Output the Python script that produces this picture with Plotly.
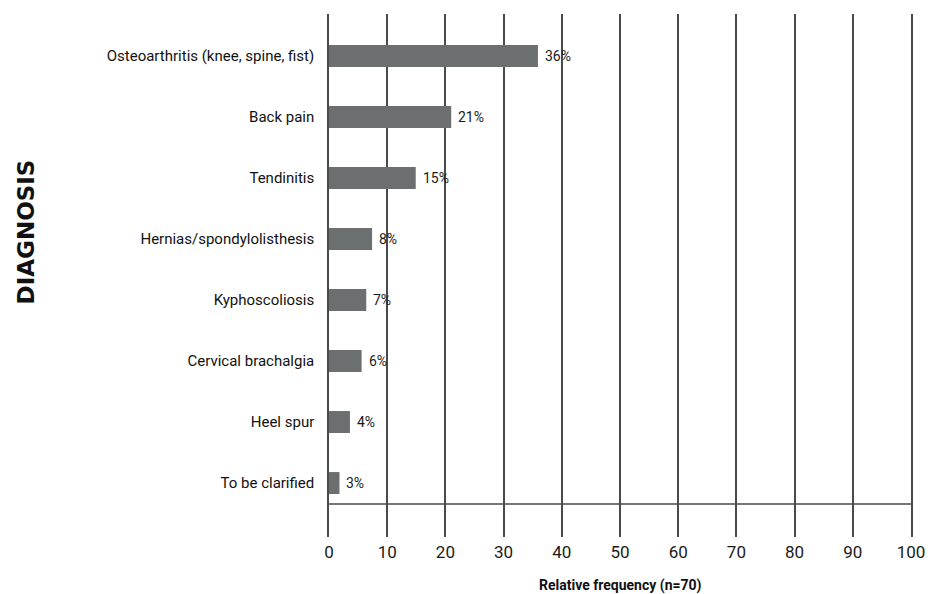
import plotly.graph_objects as go

categories = [
    "Osteoarthritis (knee, spine, fist)",
    "Back pain",
    "Tendinitis",
    "Hernias/spondylolisthesis",
    "Kyphoscoliosis",
    "Cervical brachalgia",
    "Heel spur",
    "To be clarified",
]
values = [35.9, 21.0, 14.9, 7.4, 6.4, 5.6, 3.6, 1.8]
value_labels = ["36%", "21%", "15%", "8%", "7%", "6%", "4%", "3%"]
x_ticks = [0, 10, 20, 30, 40, 50, 60, 70, 80, 90, 100]

FONT = "Roboto, Arial, sans-serif"
LINE = "#4a4a4a"
positions = list(range(len(categories)))

fig = go.Figure()
fig.add_trace(go.Bar(
    x=values, y=positions, orientation="h",
    marker=dict(color="#6c6f6f", line=dict(width=0)),
    width=0.36, hoverinfo="skip",
))

for v, p, t in zip(values, positions, value_labels):
    fig.add_annotation(x=v, y=p, text=t, showarrow=False, xanchor="left",
                       xshift=5, font=dict(family=FONT, size=14, color="#1a1a1a"))

fig.add_shape(type="line", xref="x", yref="paper", x0=0, x1=100,
              y0=0.0631, y1=0.0631, line=dict(color=LINE, width=1.5))

fig.add_annotation(xref="paper", yref="paper", x=0.5, y=-0.093, yanchor="middle",
                   text="<b>Relative frequency (n=70)</b>", showarrow=False,
                   font=dict(family=FONT, size=14, color="#111"))
fig.add_annotation(xref="paper", yref="paper", x=-0.52, y=0.583, xanchor="center",
                   yanchor="middle",
                   text="<b>DIAGNOSIS</b>", textangle=-90, showarrow=False,
                   font=dict(family="DejaVu Sans, sans-serif", size=23, color="#111"))

fig.update_layout(
    width=937, height=594,
    margin=dict(l=329, r=18, t=14, b=57),
    plot_bgcolor="white", paper_bgcolor="white",
    showlegend=False,
    font=dict(family=FONT, color="#1a1a1a"),
    xaxis=dict(range=[0, 100], tickvals=x_ticks, showgrid=True,
               gridcolor=LINE, gridwidth=1.5, zeroline=False,
               showline=False, ticks="", ticklabelstandoff=3,
               tickfont=dict(family=FONT, size=17, color="#1a1a1a"), fixedrange=True),
    yaxis=dict(range=[7.885, -0.689], tickvals=positions, ticktext=categories,
               showgrid=False, zeroline=False, showline=True, mirror=True,
               linecolor=LINE, linewidth=1.5, ticks="", ticklabelstandoff=10,
               tickfont=dict(family=FONT, size=15, color="#111"), fixedrange=True),
)

fig.write_html("out.html")
